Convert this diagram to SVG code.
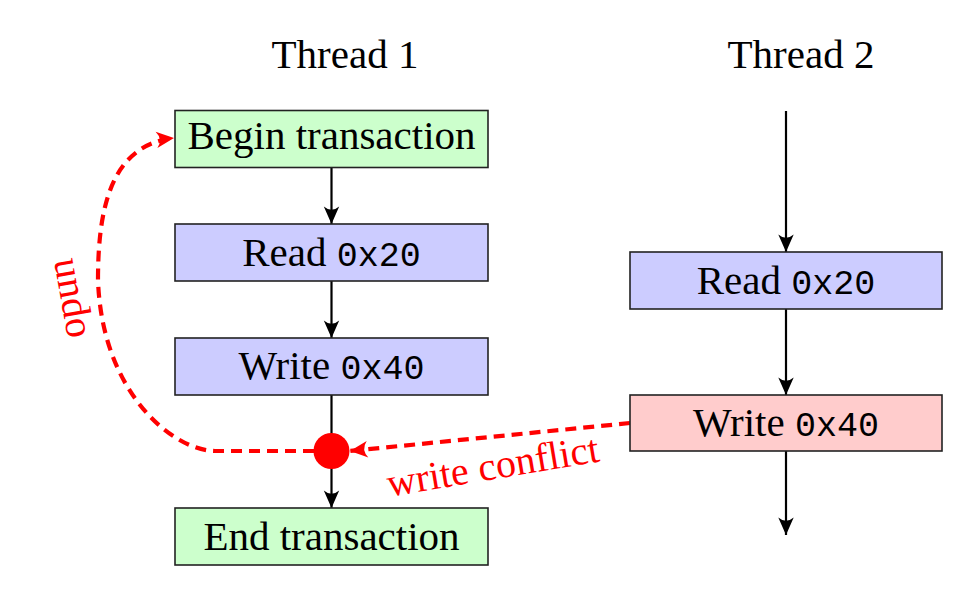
<svg xmlns="http://www.w3.org/2000/svg" width="960" height="595" viewBox="0 0 960 595">
<style>
  .box { stroke: #222; stroke-width: 1.6; }
  .green { fill: #ccffcc; }
  .blue { fill: #ccccff; }
  .pink { fill: #ffcccc; }
  .lbl { font-family: "Liberation Serif", "Times New Roman", serif; font-size: 41px; fill: #000; text-anchor: middle; }
  .mono { font-family: "Liberation Mono", "Courier New", monospace; font-size: 35px; }
  .flow { stroke: #000; stroke-width: 2.2; fill: none; marker-end: url(#ah); }
  .red { stroke: #ff0000; stroke-width: 4.2; fill: none; stroke-dasharray: 11 7; marker-end: url(#rh); }
  .redtxt { font-family: "Liberation Serif", "Times New Roman", serif; font-size: 40px; fill: #ff0000; text-anchor: middle; }
</style>
<defs>
  <marker id="ah" markerUnits="userSpaceOnUse" markerWidth="22" markerHeight="22" viewBox="-18 -9 20 18" refX="0" refY="0" orient="auto">
    <path d="M0,0 L-16,-7 Q-10,0 -16,7 Z" fill="#000"/>
  </marker>
  <marker id="rh" markerUnits="userSpaceOnUse" markerWidth="22" markerHeight="22" viewBox="-18 -9 20 18" refX="0" refY="0" orient="auto">
    <path d="M0,0 L-16,-7.5 Q-10,0 -16,7.5 Z" fill="#ff0000"/>
  </marker>
</defs>

<text class="lbl" x="345" y="68">Thread 1</text>
<text class="lbl" x="801" y="68">Thread 2</text>

<g id="connectors">
  <line class="flow" x1="331.5" y1="167" x2="331.5" y2="224"/>
  <line class="flow" x1="331.5" y1="281" x2="331.5" y2="338"/>
  <line class="flow" x1="331.5" y1="395" x2="331.5" y2="508"/>
  <line class="flow" x1="786" y1="111" x2="786" y2="252"/>
  <line class="flow" x1="786" y1="309" x2="786" y2="395"/>
  <line class="flow" x1="786" y1="451" x2="786" y2="535"/>
  <path class="red" d="M630,423 L350,451"/>
  <path class="red" d="M314,451 H215 C175,451 102,395 98,280 C98,210 110,145 174,138"/>
  <text class="redtxt" transform="translate(495,479) rotate(-9.5)" x="0" y="0">write conflict</text>
  <text class="redtxt" transform="translate(61,300) rotate(80)" x="0" y="0">undo</text>
</g>

<g id="t1-begin">
  <rect class="box green" x="175" y="110.5" width="313" height="57"/>
  <text class="lbl" x="331.5" y="149">Begin transaction</text>
</g>
<g id="t1-read">
  <rect class="box blue" x="175" y="224" width="313" height="57"/>
  <text class="lbl" x="331.5" y="266">Read <tspan class="mono">0x20</tspan></text>
</g>
<g id="t1-write">
  <rect class="box blue" x="175" y="338" width="313" height="57"/>
  <text class="lbl" x="331.5" y="379">Write <tspan class="mono">0x40</tspan></text>
</g>
<g id="conflict-dot">
  <circle cx="331.5" cy="451" r="18" fill="#ff0000"/>
</g>
<g id="t1-end">
  <rect class="box green" x="175" y="508" width="313" height="57"/>
  <text class="lbl" x="331.5" y="550">End transaction</text>
</g>
<g id="t2-read">
  <rect class="box blue" x="630" y="252" width="312" height="57"/>
  <text class="lbl" x="786" y="294">Read <tspan class="mono">0x20</tspan></text>
</g>
<g id="t2-write">
  <rect class="box pink" x="630" y="395" width="312" height="56"/>
  <text class="lbl" x="786" y="436">Write <tspan class="mono">0x40</tspan></text>
</g>
</svg>
